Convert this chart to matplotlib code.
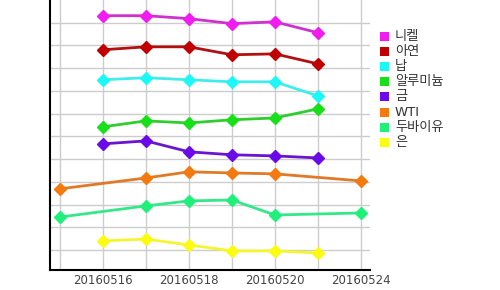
import numpy as np
import matplotlib
matplotlib.use("Agg")
import matplotlib.pyplot as plt
from matplotlib.patches import Rectangle

plt.rcParams['font.family'] = ['DejaVu Sans', 'Noto Sans CJK KR']

dates = ["20160513", "20160516", "20160517", "20160518", "20160519", "20160520", "20160523", "20160524"]
nan = np.nan
nickel = [nan, 11.31, 11.31, 11.18, 10.96, 11.04, 10.56, nan]
zinc = [nan, 9.81, 9.94, 9.94, 9.59, 9.63, 9.19, nan]
lead = [nan, 8.49, 8.58, 8.49, 8.40, 8.40, 7.78, nan]
aluminium = [nan, 6.42, 6.68, 6.59, 6.73, 6.81, 7.21, nan]
gold = [nan, 5.67, 5.80, 5.32, 5.19, 5.14, 5.05, nan]
wti = [3.69, nan, 4.17, 4.44, 4.39, 4.35, nan, 4.04]
dubai = [2.45, nan, 2.94, 3.16, 3.20, 2.54, nan, 2.63]
silver = [nan, 1.40, 1.48, 1.22, 0.96, 0.96, 0.87, nan]

names = ["니켈", "아연", "납", "알루미늄", "금", "WTI", "두바이유", "은"]
series = [nickel, zinc, lead, aluminium, gold, wti, dubai, silver]
marker_colors = ["#f01cf0", "#c00000", "#1cf8f8", "#18e018", "#6a0ae8", "#f47a10", "#1ef07a", "#fcfc10"]
line_colors = ["#d030d0", "#b01010", "#40ecec", "#30cc30", "#6a14d0", "#e07a28", "#34e88a", "#f4f430"]

W, H = 500, 290
fig = plt.figure(figsize=(5, 2.9), dpi=100)
ax = fig.add_axes([0.1, 20 / H, 0.64, 270 / H])

x = np.arange(len(dates))
for vals, mc, lc in zip(series, marker_colors, line_colors):
    v = np.array(vals, dtype=float)
    m = ~np.isnan(v)
    ax.plot(x[m], v[m], color=lc, lw=2, zorder=3)
    ax.plot(x[m], v[m], ls='none', marker='D', ms=6.5, color=mc, mec=mc, zorder=4)

ax.set_xlim(-0.23, 7.21)
ax.set_ylim(0.12, 12.0)
ax.set_xticks(x)
ax.set_xticklabels([d if i % 2 == 1 else "" for i, d in enumerate(dates)], fontsize=8.5, color="#444444")
ax.set_yticks(np.arange(1, 12))
ax.set_yticklabels([])
ax.tick_params(axis='both', length=0, pad=3)
ax.grid(True, color="#cccccc", lw=1)
ax.set_axisbelow(True)
for s in ['top', 'right']:
    ax.spines[s].set_visible(False)
for s in ['left', 'bottom']:
    ax.spines[s].set_linewidth(1.5)
    ax.spines[s].set_color('black')

# legend
for i, (name, c) in enumerate(zip(names, marker_colors)):
    yc = 36.5 + i * 15.1
    fig.patches.append(Rectangle((380 / W, 1 - (yc + 4.5) / H), 9 / W, 9 / H,
                                 transform=fig.transFigure, facecolor=c, edgecolor='none'))
    fig.text(395 / W, 1 - yc / H, name, fontsize=9.5, color="#333333", va='center', ha='left')

fig.savefig("out.png", dpi=100)
